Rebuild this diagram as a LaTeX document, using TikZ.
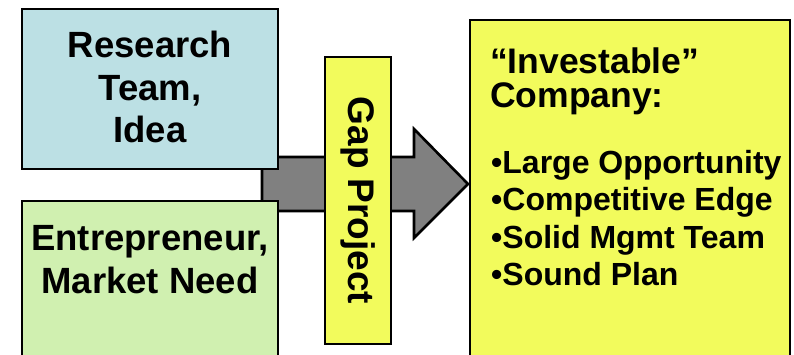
\documentclass[tikz,border=0pt]{standalone}
\usepackage{fontspec}
\setmainfont{Liberation Sans}
\definecolor{rblue}{RGB}{188,224,228}
\definecolor{rgreen}{RGB}{208,240,176}
\definecolor{ryellow}{RGB}{242,251,92}
\definecolor{rgray}{RGB}{128,128,128}
\begin{document}
\begin{tikzpicture}[x=1pt,y=-1pt,
  box/.style={draw=black, line width=2.6pt, inner sep=0pt},
  bigtext/.style={font=\fontsize{36.5}{42.5}\selectfont\bfseries, align=center, inner sep=0pt},
  listtext/.style={font=\fontsize{32}{37.5}\selectfont\bfseries, align=left, inner sep=0pt},
  headtext/.style={font=\fontsize{35.5}{34}\selectfont\bfseries, align=left, inner sep=0pt},
  blockarrow/.style={draw=black, fill=rgray, line width=2.6pt, line join=miter}]
\clip (0,0) rectangle (794,355);
\fill[white] (0,0) rectangle (794,355);
% block arrow (behind the boxes)
\draw[blockarrow] (262,157) -- (414,157) -- (414,129) -- (468,184) -- (414,238) -- (414,211) -- (262,211) -- cycle;
% left boxes
\node[box, fill=rblue, minimum width=256pt, minimum height=160pt] (research) at (150,89) {};
\node[bigtext, anchor=base] (researchText) at (150,143) {Research\\Team,\\Idea};
\node[box, fill=rgreen, minimum width=256pt, minimum height=170pt] (ent) at (150,286) {};
\node[bigtext, anchor=base] (entText) at (150,293) {Entrepreneur,\\Market Need};
% gap project
\node[box, fill=ryellow, minimum width=66pt, minimum height=287pt] (gap) at (358,200.5) {};
\node[font=\fontsize{37}{40}\selectfont\bfseries, rotate=-90, inner sep=0pt] (gapText) at (gap.center) {Gap Project};
% right box
\node[box, fill=ryellow, minimum width=320pt, minimum height=350pt] (invest) at (630,195) {};
\node[headtext, anchor=base west] (head) at (490,108) {“Investable”\\Company:};
\node[listtext, anchor=base west] (list) at (491,285.5) {•Large Opportunity\\•Competitive Edge\\•Solid Mgmt Team\\•Sound Plan};
\end{tikzpicture}
\end{document}
